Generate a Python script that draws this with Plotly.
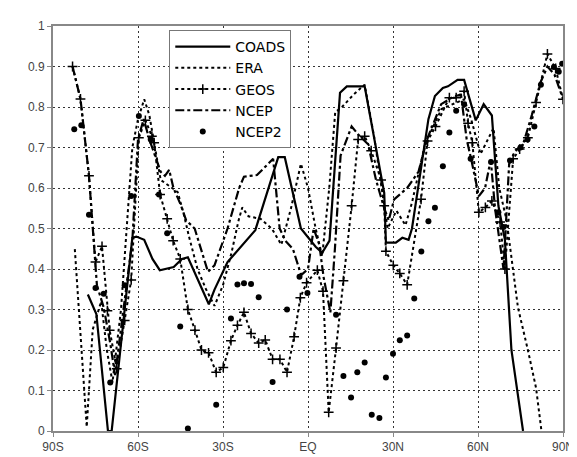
import plotly.graph_objects as go

# ---- data (latitude in degrees, negative = south) ----
coads_lat = [-77.7, -74.7, -70.6, -69.3, -62, -60.6, -57.8, -54.9, -52.3, -47.4, -44.5, -42.4,
             -35, -33, -28.4, -21.5, -18.6, -10.5, -8.2, -2.5, 2.7, 5.0, 7.6, 11.3, 13.7, 20,
             26.9, 27.5, 31, 33.3, 35.5, 36.7, 42.5, 44.8, 47.6, 49.4, 52.8, 55.1, 59.2, 62,
             64.9, 67.2, 69.5, 71.8, 75.9]
coads_val = [0.337, 0.289, 0.0, 0.0, 0.477, 0.48, 0.472, 0.425, 0.397, 0.405, 0.425, 0.429,
             0.313, 0.349, 0.417, 0.472, 0.496, 0.676, 0.676, 0.5, 0.455, 0.44, 0.47, 0.835, 0.851, 0.851,
             0.588, 0.465, 0.465, 0.477, 0.472, 0.5, 0.77, 0.827, 0.847, 0.851, 0.867, 0.867, 0.767, 0.807,
             0.779, 0.556, 0.472, 0.2, 0.0]

era_lat = [-82.3, -78.1, -76, -73, -71, -69, -66, -64, -62, -60, -57.8, -56, -54, -52, -50, -48,
           -46, -44, -42, -39, -36, -33, -30, -27, -24.5, -23.2, -21, -16.8, -12.8, -9.4, -6,
           -2.5, 0, 2.7, 5, 7.5, 9.6, 12, 16, 20, 23.4, 26, 28.1, 31.2, 34.4, 36.7, 41.3, 47.1,
           55.1, 57.5, 60.9, 65.5, 67.5, 70.1, 74.1, 77.6, 80.5, 82.4]
era_val = [0.449, 0.01, 0.25, 0.32, 0.2, 0.12, 0.3, 0.5, 0.7, 0.77, 0.819, 0.78, 0.7, 0.62, 0.61,
           0.6, 0.59, 0.54, 0.48, 0.4, 0.35, 0.309, 0.36, 0.44, 0.52, 0.552, 0.53, 0.524, 0.5, 0.46,
           0.55, 0.66, 0.6, 0.5, 0.432, 0.6, 0.787, 0.8, 0.83, 0.855, 0.724, 0.6, 0.5, 0.544, 0.508,
           0.564, 0.708, 0.795, 0.819, 0.772, 0.684, 0.748, 0.6, 0.52, 0.305, 0.2, 0.106, 0.0]

geos_lat = [-83.1, -80.3, -77.3, -75, -72.7, -70.8, -70.0, -67.5, -64.7, -62.4, -59.7, -57.4, -55.1,
            -54.3, -52.2, -49.7, -47.6, -45.1, -42.4, -39.9, -37.6, -35.1, -32.4, -29.9, -27.2,
            -24.9, -22.6, -20.1, -17.4, -15.1, -12.5, -9.9, -7.4, -4.9, -2.7, -0.5, 3.3, 5.3, 7.3,
            9.9, 12.5, 15.4, 17.7, 20, 22.3, 25.8, 26.9, 27.5, 30.1, 32.4, 35, 39.9, 42.2, 45,
            49.9, 52.3, 55.1, 56.5, 58, 60.3, 62.6, 64.9, 67.8, 69.5, 72.4, 74.7, 77.6, 80.5,
            84.5, 87.4, 90]
geos_val = [0.9, 0.82, 0.63, 0.417, 0.456, 0.297, 0.249, 0.154, 0.273, 0.373, 0.724, 0.767, 0.728,
            0.712, 0.584, 0.524, 0.47, 0.425, 0.3, 0.249, 0.2, 0.193, 0.145, 0.157, 0.223,
            0.261, 0.293, 0.241, 0.217, 0.225, 0.177, 0.177, 0.145, 0.233, 0.329, 0.366, 0.397, 0.345, 0.046,
            0.205, 0.371, 0.556, 0.72, 0.728, 0.692, 0.62, 0.556, 0.444, 0.409, 0.389, 0.361, 0.572, 0.716, 0.752,
            0.823, 0.823, 0.839, 0.76, 0.712, 0.54, 0.552, 0.568, 0.516, 0.4, 0.672, 0.696, 0.724, 0.811,
            0.931, 0.895, 0.819]

ncep_lat = [-83.1, -80.3, -77.3, -76.2, -74.5, -72.1, -69.8, -68.1, -65, -62, -60, -58, -56, -54,
            -52, -50.5, -49, -47.5, -45, -43, -40, -35.3, -33, -28.4, -24.3, -22.6, -18, -12.3,
            -10, -8, -5.3, -2.4, 0, 2, 4, 5.5, 7.9, 9.5, 11.5, 15.4, 18, 21.2, 24, 27, 28.5, 30.4,
            35, 39, 42, 47, 51.7, 54, 56, 57.7, 60.3, 62.5, 64.5, 66, 68, 69, 71, 73, 76, 79, 82,
            84.5, 87, 90]
ncep_val = [0.9, 0.82, 0.63, 0.52, 0.36, 0.305, 0.217, 0.138, 0.3, 0.47, 0.72, 0.77, 0.72, 0.68,
            0.64, 0.63, 0.645, 0.6, 0.56, 0.52, 0.5, 0.393, 0.409, 0.5, 0.6, 0.628, 0.632, 0.672,
            0.5, 0.47, 0.449, 0.385, 0.4, 0.5, 0.46, 0.38, 0.293, 0.45, 0.68, 0.752, 0.73, 0.708, 0.62,
            0.548, 0.52, 0.572, 0.6, 0.64, 0.72, 0.807, 0.827, 0.83, 0.72, 0.668, 0.58, 0.6, 0.67,
            0.55, 0.45, 0.4, 0.66, 0.69, 0.71, 0.78, 0.86, 0.9, 0.88, 0.82]

ncep2_lat = [-82.5, -80, -77.3, -75, -72.1, -69.8, -64.7, -62.4, -59.7, -55.5, -52.6, -49.7, -45.1,
             -42.4, -32.4, -27.2, -24.9, -22.6, -20.1, -17.4, -12.5, -7.4, -3, -0.2, 9.9, 12.5,
             15.2, 17.4, 20, 22.5, 25.2, 27.5, 30, 32.4, 35, 37.5, 40, 42.5, 44.8, 47.6, 49.9, 52.3,
             55.1, 57.4, 64.6, 67.2, 69, 71.3, 75, 77.5, 79.9, 82.2, 86.8, 88.5, 89.7]
ncep2_val = [0.745, 0.755, 0.534, 0.353, 0.339, 0.12, 0.36, 0.58, 0.778, 0.72, 0.584, 0.488, 0.258,
             0.006, 0.065, 0.278, 0.362, 0.365, 0.363, 0.33, 0.121, 0.3, 0.381, 0.341, 0.287, 0.136,
             0.083, 0.145, 0.169, 0.04, 0.032, 0.132, 0.191, 0.224, 0.236, 0.327, 0.443, 0.518, 0.551,
             0.654, 0.737, 0.791, 0.807, 0.672, 0.664, 0.54, 0.504, 0.668, 0.7, 0.72, 0.752, 0.855,
             0.899, 0.887, 0.907]

x_tickvals = [-90, -60, -30, 0, 30, 60, 90]
x_ticktext = ["90S", "60S", "30S", "EQ", "30N", "60N", "90N"]
y_tickvals = [0, 0.1, 0.2, 0.3, 0.4, 0.5, 0.6, 0.7, 0.8, 0.9, 1]
y_ticktext = ["0", "0.1", "0.2", "0.3", "0.4", "0.5", "0.6", "0.7", "0.8", "0.9", "1"]

fig = go.Figure()
fig.add_trace(go.Scatter(x=coads_lat, y=coads_val, mode="lines", name="COADS",
                         line=dict(color="black", width=2.2)))
fig.add_trace(go.Scatter(x=era_lat, y=era_val, mode="lines", name="ERA",
                         line=dict(color="black", width=2, dash="dot")))
fig.add_trace(go.Scatter(x=geos_lat, y=geos_val, mode="lines+markers", name="GEOS",
                         line=dict(color="black", width=2, dash="dot"),
                         marker=dict(symbol="cross-thin", size=7, color="black",
                                     line=dict(color="black", width=1.5))))
fig.add_trace(go.Scatter(x=ncep_lat, y=ncep_val, mode="lines", name="NCEP",
                         line=dict(color="black", width=2.2, dash="dashdot")))
fig.add_trace(go.Scatter(x=ncep2_lat, y=ncep2_val, mode="markers", name="NCEP2",
                         marker=dict(symbol="circle", size=6, color="black")))

fig.update_layout(
    width=577, height=457,
    margin=dict(l=45, r=11, t=14, b=25),
    paper_bgcolor="white", plot_bgcolor="white",
    font=dict(family="Liberation Sans, Arial, sans-serif", size=12, color="#444"),
    showlegend=True,
    legend=dict(x=0.228, y=0.99, xanchor="left", yanchor="top",
                bgcolor="white", bordercolor="#777", borderwidth=1,
                font=dict(family="DejaVu Sans, sans-serif", size=14, color="black"),
                tracegroupgap=0, itemwidth=55),
)
fig.update_xaxes(range=[-90, 90], tickvals=x_tickvals, ticktext=x_ticktext,
                 showgrid=True, gridcolor="#333", gridwidth=1, griddash="2px,3px",
                 showline=True, linecolor="#888", linewidth=2, mirror=True,
                 ticks="outside", ticklen=4, tickcolor="#888", zeroline=False)
fig.update_yaxes(range=[0, 1], tickvals=y_tickvals, ticktext=y_ticktext,
                 showgrid=True, gridcolor="#333", gridwidth=1, griddash="2px,3px",
                 showline=True, linecolor="#888", linewidth=2, mirror=True,
                 ticks="outside", ticklen=4, tickcolor="#888", zeroline=False)

fig.write_html("out.html")
